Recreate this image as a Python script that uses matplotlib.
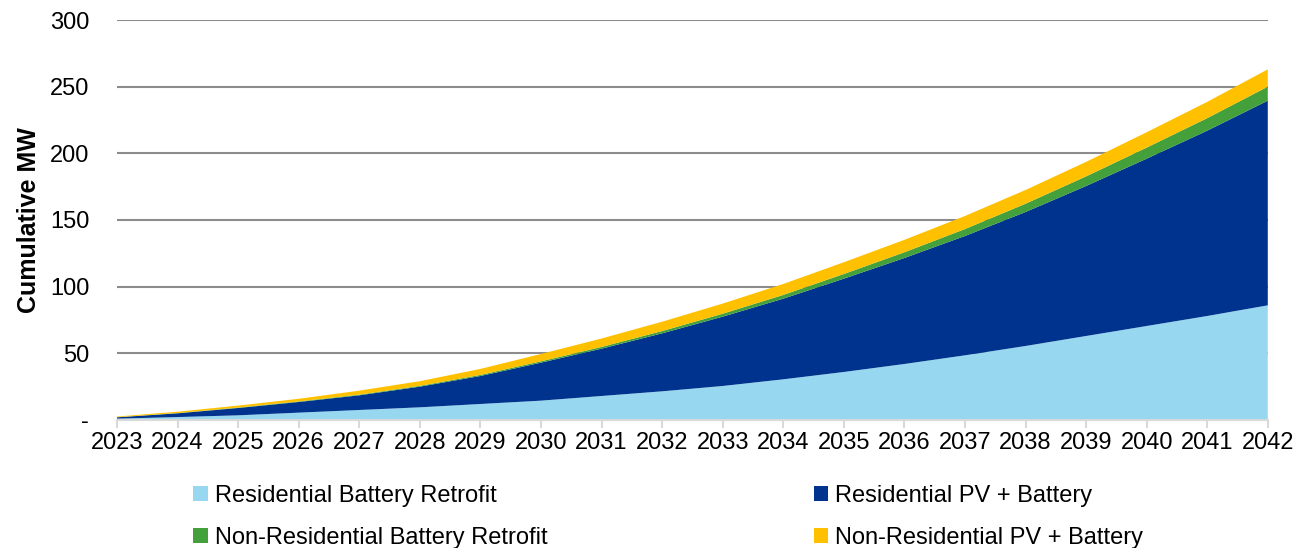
import matplotlib.pyplot as plt

plt.rcParams['font.family'] = ['Liberation Sans', 'DejaVu Sans']

years = list(range(2023, 2043))
res_retrofit = [1.0, 2.2, 3.5, 5.5, 7.5, 9.5, 12, 14.5, 18, 21.5,
                25.5, 30.5, 36, 42, 48.5, 55.5, 63, 70.5, 78, 86]
res_pv = [1.0, 2.8, 5.5, 8, 11, 15.5, 21, 28.5, 35.5, 43.5,
          52, 60.5, 70, 79.5, 89.5, 100.5, 112.5, 125.5, 139, 153.5]
nonres_retrofit = [0.1, 0.2, 0.3, 0.4, 0.5, 0.6, 0.8, 1.0, 1.3, 1.7,
                   2.2, 2.8, 3.5, 4.3, 5.2, 6.2, 7.2, 8.3, 9.4, 10.5]
nonres_pv = [0.5, 1.0, 1.5, 2.0, 3.0, 3.5, 4.5, 5.5, 6.3, 7.0,
             7.6, 8.2, 8.8, 9.3, 9.8, 10.3, 10.9, 11.5, 12.2, 13.0]

labels = ["Residential Battery Retrofit", "Residential PV + Battery",
          "Non-Residential Battery Retrofit", "Non-Residential PV + Battery"]
colors = ["#97D7F0", "#00338D", "#43A03A", "#FFC000"]

fig = plt.figure(figsize=(13.07, 5.48), dpi=100)
ax = fig.add_axes([0.0895, 0.2336, 0.8805, 0.7299])

polys = ax.stackplot(years, res_retrofit, res_pv, nonres_retrofit, nonres_pv,
                     colors=colors, labels=labels, linewidth=0)

ax.set_xlim(2023, 2042)
ax.set_ylim(0, 300)
ax.set_yticks(range(0, 301, 50))
ax.set_yticklabels(["-"] + [str(v) for v in range(50, 301, 50)])
ax.set_xticks(years)
ax.set_xticklabels([str(y) for y in years])
ax.grid(axis="y", color="#8c8c8c", linewidth=1.5)
ax.set_axisbelow(True)

for s in ["top", "right", "left"]:
    ax.spines[s].set_visible(False)
ax.spines["bottom"].set_color("#d9d9d9")
ax.spines["bottom"].set_linewidth(1.5)
ax.tick_params(axis="x", colors="#d9d9d9", length=6, width=1.5, labelcolor="black",
               labelsize=17, pad=3)
ax.tick_params(axis="y", length=0, labelsize=17, pad=20)
ax.set_ylabel("Cumulative MW", fontsize=18, fontweight="bold", labelpad=6)

order = [0, 2, 1, 3]
fig.legend([polys[i] for i in order], [labels[i] for i in order],
           ncol=2, loc="upper left", bbox_to_anchor=(0.148, 0.115),
           frameon=False, fontsize=17, handlelength=0.6, handleheight=0.6,
           handletextpad=0.3, columnspacing=11.3, labelspacing=0.85,
           borderaxespad=0, borderpad=0)

fig.savefig("out.png", dpi=100)
